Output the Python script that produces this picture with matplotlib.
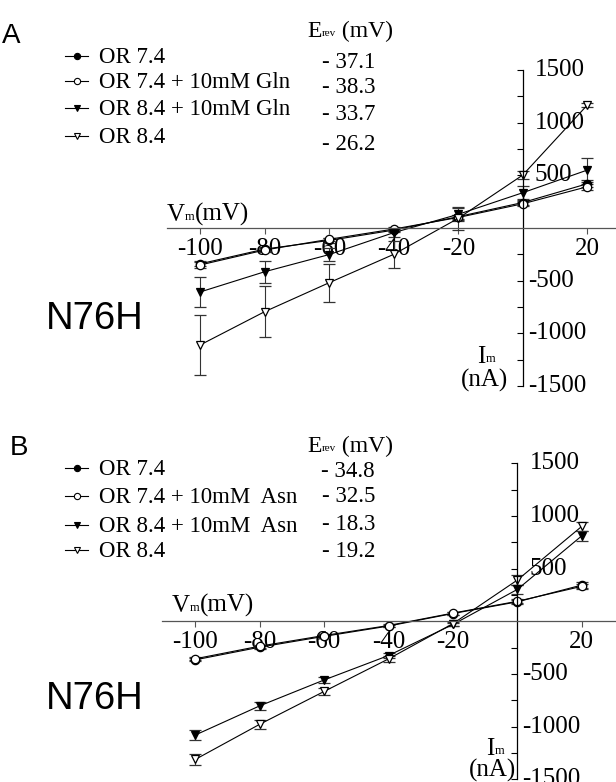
import numpy as np
import matplotlib
matplotlib.use('Agg')
import matplotlib.pyplot as plt
from matplotlib.lines import Line2D
from matplotlib.transforms import offset_copy

plt.rcParams['font.family'] = 'Liberation Serif'
plt.rcParams['axes.unicode_minus'] = False

# membrane potential steps (mV)
vm = [-100, -80, -60, -40, -20, 0, 20]

# Panel A: currents (nA) and error bars
a_or74 = [-340, -200, -118, -20, 108, 242, 420]
a_or74_err = [25, 20, 20, 15, 20, 25, 35]
a_or74gln = [-351, -209, -107, -10, 100, 230, 392]
a_or74gln_err = [25, 20, 15, 15, 20, 25, 30]
a_or84gln = [-607, -415, -252, -44, 130, 335, 550]
a_or84gln_err = [140, 105, 60, 40, 60, 60, 110]
a_or84 = [-1110, -794, -519, -250, 92, 503, 1167]
a_or84_err = [285, 240, 180, 130, 110, 40, 20]

# Panel B
b_or74 = [-366, -246, -143, -45, 74, 185, 344]
b_or74_err = [15, 15, 15, 12, 15, 20, 25]
b_or74asn = [-356, -236, -135, -40, 78, 190, 332]
b_or74asn_err = [15, 15, 15, 12, 15, 20, 25]
b_or84asn = [-1080, -803, -557, -325, -30, 303, 812]
b_or84asn_err = [45, 40, 30, 25, 15, 40, 50]
b_or84 = [-1312, -978, -666, -357, -22, 392, 902]
b_or84_err = [50, 45, 35, 30, 20, 45, 40]

labels_a = ['OR 7.4', 'OR 7.4 + 10mM Gln', 'OR 8.4 + 10mM Gln', 'OR 8.4']
erev_a = ['- 37.1', '- 38.3', '- 33.7', '- 26.2']
labels_b = ['OR 7.4', 'OR 7.4 + 10mM  Asn', 'OR 8.4 + 10mM  Asn', 'OR 8.4']
erev_b = ['- 34.8', '- 32.5', '- 18.3', '- 19.2']

xticks = [-100, -80, -60, -40, -20, 20]
ylabels = [1500, 1000, 500, -500, -1000, -1500]
yticks = [v for v in range(-1500, 1501, 250) if v != 0]

W, H = 616, 782
fig = plt.figure(figsize=(W / 100, H / 100), dpi=100)

styles = [
    dict(marker='o', mfc='black', mec='black'),
    dict(marker='o', mfc='white', mec='black'),
    dict(marker='v', mfc='black', mec='black'),
    dict(marker='v', mfc='white', mec='black'),
]


def fx(px):
    return px / W


def fy(py):
    return 1 - py / H


def subtext(x, y, big, small, rest, size=18, ssize=9, gap=0):
    # big letter with a tiny subscript, then the unit; x,y in pixels (baseline)
    t = fig.text(fx(x), fy(y), big, fontsize=size, va='baseline')
    r = fig.canvas.get_renderer()
    bb = t.get_window_extent(r)
    xs = bb.x1
    s = fig.text(xs / W, fy(y - 1), small, fontsize=ssize, va='baseline')
    bb2 = s.get_window_extent(r)
    if rest:
        fig.text((bb2.x1 + gap) / W, fy(y), rest, fontsize=size, va='baseline')


def panel(rect, series, labels, erev, letter, rows, erows, head_y, letter_y, n76_y, vm_xy, im_xy, nagap):
    x0, ytop, x1, ybot, xmin, xmax = rect
    ax = fig.add_axes([fx(x0), fy(ybot), fx(x1) - fx(x0), fy(ytop) - fy(ybot)])
    ax.set_xlim(xmin, xmax)
    ax.set_ylim(-1500, 1500)
    ax.patch.set_visible(False)
    for s in ['top', 'right']:
        ax.spines[s].set_visible(False)
    ax.spines['left'].set_position(('data', 0))
    ax.spines['bottom'].set_position(('data', 0))
    ax.spines['bottom'].set_color('#555555')
    ax.spines['left'].set_linewidth(0.9)
    ax.spines['bottom'].set_linewidth(0.9)
    ax.set_xticks(xticks)
    ax.set_xticklabels([str(v) for v in xticks], fontsize=18)
    ax.set_yticks(yticks)
    ax.tick_params(axis='y', labelleft=False, length=4, width=0.8, direction='out')
    ax.tick_params(axis='x', length=4, width=0.8, pad=3, color='#555555')

    for (y, err), st in zip(series, styles):
        ax.errorbar(vm, y, yerr=err, color='black', lw=0.8, elinewidth=0.8,
                    ecolor='#333333', capsize=4, capthick=0.8,
                    markersize=6, markeredgewidth=0.9, clip_on=False, **st)

    for v in ylabels:
        off = 5 if v < 0 else 12
        tr = offset_copy(ax.transData, fig=fig, x=off, y=0, units='dots')
        ax.text(0, v, str(v), transform=tr, ha='left', va='center', fontsize=18)

    # legend
    for lab, st, by in zip(labels, styles, rows):
        my = by - 7
        fig.add_artist(Line2D([fx(65), fx(88)], [fy(my), fy(my)], color='black', lw=0.8,
                              transform=fig.transFigure))
        fig.add_artist(Line2D([fx(77)], [fy(my)], marker=st['marker'], mfc=st['mfc'],
                              mec='black', markersize=4.5, mew=0.8, ls='none',
                              transform=fig.transFigure))
        fig.text(fx(99), fy(by), lab, fontsize=16.5, va='baseline', ha='left')
    for e, by in zip(erev, erows):
        fig.text(fx(375), fy(by), e, fontsize=16.5, va='baseline', ha='right')
    subtext(307, head_y, 'E', 'rev', ' (mV)', size=17, ssize=8)

    fig.text(fx(letter_y[0]), fy(letter_y[1]), letter, fontsize=20,
             family='Liberation Sans', va='baseline')
    fig.text(fx(46), fy(n76_y), 'N76H', fontsize=27.5, family='Liberation Sans', va='baseline')
    subtext(vm_xy[0], vm_xy[1], 'V', 'm', '(mV)', size=18, ssize=9)
    subtext(im_xy[0] - 9, im_xy[1], 'I', 'm', '', size=18, ssize=9)
    fig.text(fx(im_xy[0] - 2), fy(im_xy[1] + nagap), '(nA)', fontsize=18, va='baseline', ha='center')
    return ax


panel((166.7, 70, 616, 386, -110.4, 28.9),
      [(a_or74, a_or74_err), (a_or74gln, a_or74gln_err),
       (a_or84gln, a_or84gln_err), (a_or84, a_or84_err)],
      labels_a, erev_a, 'A', [63, 88, 115, 143], [68, 93, 120, 150], 37,
      (2, 43), 329, (167, 221), (486, 363), 24)

panel((161.7, 463.3, 616, 779.3, -110.4, 30.6),
      [(b_or74, b_or74_err), (b_or74asn, b_or74asn_err),
       (b_or84asn, b_or84asn_err), (b_or84, b_or84_err)],
      labels_b, erev_b, 'B', [475, 503, 532, 557], [477, 502, 530, 557], 452,
      (10, 455), 709, (172, 612), (495, 755), 22)

fig.savefig('out.png', dpi=100)
